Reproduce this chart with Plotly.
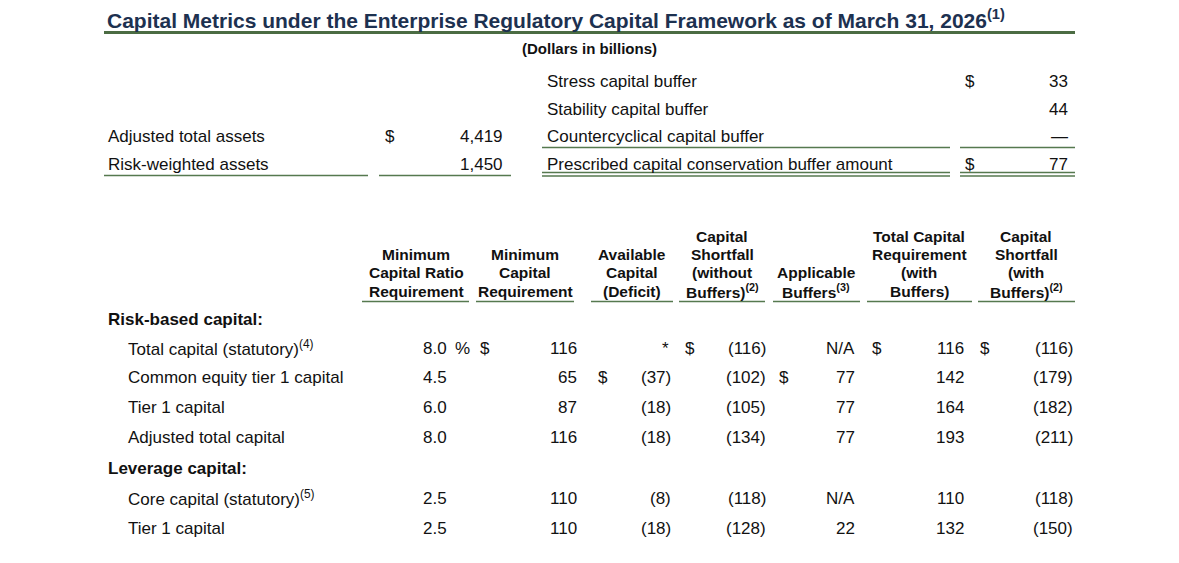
import plotly.graph_objects as go

# ---------------- data ----------------
title_text = "Capital Metrics under the Enterprise Regulatory Capital Framework as of March 31, 2026"
title_note = "(1)"
units_text = "(Dollars in billions)"

asset_labels = ["Adjusted total assets", "Risk-weighted assets"]
asset_values = [4419, 1450]

buffer_labels = ["Stress capital buffer", "Stability capital buffer",
                 "Countercyclical capital buffer",
                 "Prescribed capital conservation buffer amount"]
buffer_values = [33, 44, None, 77]

col_headers = [
    ["Minimum", "Capital Ratio", "Requirement"],
    ["Minimum", "Capital", "Requirement"],
    ["Available", "Capital", "(Deficit)"],
    ["Capital", "Shortfall", "(without", "Buffers)<sup>(2)</sup>"],
    ["Applicable", "Buffers<sup>(3)</sup>"],
    ["Total Capital", "Requirement", "(with", "Buffers)"],
    ["Capital", "Shortfall", "(with", "Buffers)<sup>(2)</sup>"],
]

section_labels = ["Risk-based capital:", "Leverage capital:"]
row_labels = ["Total capital (statutory)<sup>(4)</sup>",
              "Common equity tier 1 capital",
              "Tier 1 capital",
              "Adjusted total capital",
              "Core capital (statutory)<sup>(5)</sup>",
              "Tier 1 capital"]
row_section = [0, 0, 0, 0, 1, 1]

min_ratio = [8.0, 4.5, 6.0, 8.0, 2.5, 2.5]
min_capital = [116, 65, 87, 116, 110, 110]
available = [None, -37, -18, -18, -8, -18]        # None -> "*"
shortfall_wo = [-116, -102, -105, -134, -118, -128]
app_buffers = [None, 77, 77, 77, None, 22]        # None -> "N/A"
total_req = [116, 142, 164, 193, 110, 132]
shortfall_w = [-116, -179, -182, -211, -118, -150]

# rows that carry a "$" sign per data column (cols 1..6)
dollar_rows = {1: [0], 2: [1], 3: [0], 4: [1], 5: [0], 6: [0]}

# ---------------- styling / layout constants ----------------
W, H = 1179, 563
FONT = "Liberation Sans, Arial, sans-serif"
NAVY = "#1d3150"
GREEN = "#56794f"
GREEN_DARK = "#4b6c43"
BLACK = "#111111"

fig = go.Figure()
ann = []
shapes = []


def txt(x, y, s, anchor="left", size=17, bold=False, color=BLACK):
    if bold:
        s = "<b>" + s + "</b>"
    if anchor == "left":
        x -= 2
    elif anchor == "right":
        x += 2
    ann.append(dict(x=x, y=y, xref="x", yref="y", text=s, showarrow=False,
                    xanchor=anchor, yanchor="middle",
                    font=dict(family=FONT, size=size, color=color)))


def hline(x0, x1, y, width=1.6, color=GREEN):
    shapes.append(dict(type="line", xref="x", yref="y", x0=x0, x1=x1,
                       y0=y, y1=y, line=dict(color=color, width=width)))


def fmt(v):
    if v < 0:
        return "({:,})".format(-v)
    return "{:,}".format(v)


# title
txt(107, 18.5, title_text + "<sup>" + title_note + "</sup>", size=21, bold=True, color=NAVY)
hline(104, 1075, 32.5, width=3.2, color=GREEN_DARK)
txt(589, 48, units_text, anchor="center", size=15, bold=True)

# top-left block
tl_y = [136, 164]
for i, (lab, val) in enumerate(zip(asset_labels, asset_values)):
    txt(108, tl_y[i], lab)
    txt(503, tl_y[i], fmt(val), anchor="right")
txt(385, tl_y[0], "$")
hline(104, 368, 175.5)
hline(379, 511, 175.5)

# top-right buffer block
tr_y = [81, 109, 136, 164]
for i, (lab, val) in enumerate(zip(buffer_labels, buffer_values)):
    txt(547, tr_y[i], lab)
    txt(1068, tr_y[i], "—" if val is None else fmt(val), anchor="right")
for i in (0, 3):
    txt(965, tr_y[i], "$")
hline(542, 950, 147.5)
hline(960, 1075, 147.5)
for yy in (172.5, 176):
    hline(542, 950, yy)
    hline(960, 1075, yy)

# main table headers
col_center = [416, 525, 632, 722, 816, 919, 1026]
col_ul = [(362, 469), (476, 574), (591, 673), (679, 765), (773, 860), (867, 972), (978, 1075)]
hdr_bottom = 291
hdr_step = 18.3
for c, lines in enumerate(col_headers):
    n = len(lines)
    for k, line in enumerate(lines):
        yy = hdr_bottom - (n - 1 - k) * hdr_step
        txt(col_center[c], yy, line, anchor="center", size=15.5, bold=True)
    hline(col_ul[c][0], col_ul[c][1], 301.5)

# body
section_y = [319, 468]
row_y = [348, 377.5, 407, 437, 498, 528.5]
for s, lab in enumerate(section_labels):
    txt(108, section_y[s], lab, bold=True)
for r, lab in enumerate(row_labels):
    txt(128, row_y[r], lab)

col_right = [447, 577, 671, 766, 855, 964, 1073]
col_dollar = [None, 480, 598, 685, 779, 872, 980]

for r in range(len(row_labels)):
    y = row_y[r]
    txt(col_right[0], y, "{:.1f}".format(min_ratio[r]), anchor="right")
    txt(col_right[1], y, fmt(min_capital[r]), anchor="right")
    txt(col_right[2] - (2 if available[r] is None else 0), y,
        "*" if available[r] is None else fmt(available[r]), anchor="right")
    txt(col_right[3], y, fmt(shortfall_wo[r]), anchor="right")
    txt(col_right[4], y, "N/A" if app_buffers[r] is None else fmt(app_buffers[r]),
        anchor="right")
    txt(col_right[5], y, fmt(total_req[r]), anchor="right")
    txt(col_right[6], y, fmt(shortfall_w[r]), anchor="right")
txt(455, row_y[0], "%")
for c, rows in dollar_rows.items():
    for r in rows:
        txt(col_dollar[c], row_y[r], "$")

fig.update_layout(
    width=W, height=H,
    margin=dict(l=0, r=0, t=0, b=0),
    paper_bgcolor="white", plot_bgcolor="white",
    xaxis=dict(range=[0, W], visible=False, fixedrange=True),
    yaxis=dict(range=[H, 0], visible=False, fixedrange=True),
    annotations=ann, shapes=shapes, showlegend=False,
)
fig.write_html("out.html", config={"displayModeBar": False},
               post_script="document.body.style.margin='0';document.body.style.overflow='hidden';")
